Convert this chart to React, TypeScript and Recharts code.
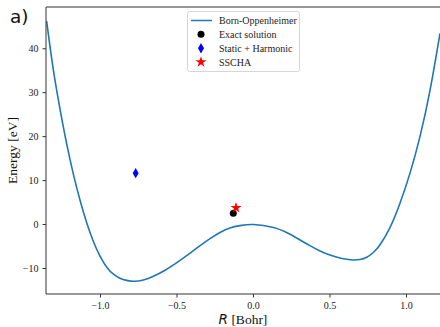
import { ComposedChart, Line, Scatter, XAxis, YAxis, ReferenceLine } from 'recharts'

// Born-Oppenheimer energy surface
const boR = [
  -1.352, -1.309, -1.265, -1.221, -1.178, -1.134, -1.09, -1.047, -1.003, -0.959, -0.915, -0.873,
  -0.829, -0.775, -0.72, -0.676, -0.62, -0.578, -0.53, -0.48, -0.43, -0.382, -0.333, -0.284, -0.219,
  -0.15, -0.088, 0, 0.131, 0.239, 0.369, 0.435, 0.5, 0.565, 0.61, 0.652, 0.696, 0.74, 0.785, 0.827,
  0.892, 0.958, 1.023, 1.088, 1.154, 1.219,
]
const boEnergy = [
  46.3, 35.4, 26.4, 18.4, 11.6, 5.6, 0.4, -3.8, -7.2, -9.7, -11.3, -12.2, -12.7, -12.9, -12.6, -12.1,
  -11.2, -10.4, -9.35, -8.15, -6.9, -5.65, -4.4, -3.2, -1.8, -0.75, -0.25, 0, -0.65, -2.2, -4.8,
  -6.0, -6.95, -7.6, -7.9, -8.05, -7.95, -7.45, -6.3, -4.6, -0.7, 4.9, 11.7, 20.0, 30.6, 43.5,
]

const exactR = [-0.132]
const exactEnergy = [2.6]
const harmonicR = [-0.77]
const harmonicEnergy = [11.7]
const sschaR = [-0.114]
const sschaEnergy = [3.8]

const xTicks = [-1.0, -0.5, 0.0, 0.5, 1.0]
const yTicks = [-10, 0, 10, 20, 30, 40]
const legendLabels = ['Born-Oppenheimer', 'Exact solution', 'Static + Harmonic', 'SSCHA']

const boData = boR.map((r, i) => ({ r, e: boEnergy[i] }))
const exactData = exactR.map((r, i) => ({ r, e: exactEnergy[i] }))
const harmonicData = harmonicR.map((r, i) => ({ r, e: harmonicEnergy[i] }))
const sschaData = sschaR.map((r, i) => ({ r, e: sschaEnergy[i] }))

const SERIF = '"Liberation Serif", "DejaVu Serif", serif'
const SANS = '"DejaVu Sans", sans-serif'
const BLUE = '#1f77b4'

const minus = (s: string) => s.replace('-', '\u2212')

function starPath(cx: number, cy: number, outer: number) {
  const inner = outer * 0.382
  let d = ''
  for (let k = 0; k < 10; k++) {
    const rad = k % 2 === 0 ? outer : inner
    const a = -Math.PI / 2 + (k * Math.PI) / 5
    d += `${k === 0 ? 'M' : 'L'}${cx + rad * Math.cos(a)},${cy + rad * Math.sin(a)}`
  }
  return d + 'Z'
}

const Dot = ({ cx, cy }: any) => <circle cx={cx} cy={cy} r={3.5} fill="#000" />
const Diamond = ({ cx, cy }: any) => (
  <path d={`M${cx},${cy - 5.2}L${cx + 3},${cy}L${cx},${cy + 5.2}L${cx - 3},${cy}Z`} fill="#0000ff" />
)
const Star = ({ cx, cy }: any) => <path d={starPath(cx, cy, 5.8)} fill="#ff0000" />

function LegendBox() {
  const rows = [9.5, 23.3, 37.2, 51]
  return (
    <svg width={114} height={62} style={{ position: 'absolute', left: 187, top: 11 }}>
      <rect x={0.5} y={0.5} width={112} height={60} rx={2} fill="rgba(255,255,255,0.8)" stroke="#d6d6d6" />
      <line x1={4} x2={25} y1={rows[0]} y2={rows[0]} stroke={BLUE} strokeWidth={1.5} />
      <Dot cx={14} cy={rows[1]} />
      <Diamond cx={14} cy={rows[2]} />
      <Star cx={14} cy={rows[3]} />
      {legendLabels.map((label, i) => (
        <text key={label} x={32} y={rows[i] + 3.5} fontFamily={SERIF} fontSize={10} fill="#222">
          {label}
        </text>
      ))}
    </svg>
  )
}

export default function App() {
  return (
    <div style={{ position: 'absolute', left: 0, top: 0, width: 440, height: 327, background: '#fff' }}>
      <ComposedChart width={440} height={327} margin={{ top: 7, right: 0, bottom: 0, left: 0 }}>
        <XAxis
          type="number"
          dataKey="r"
          domain={[-1.356, 1.219]}
          allowDataOverflow
          ticks={xTicks}
          tickFormatter={(v: number) => minus(v.toFixed(1))}
          height={33}
          tickSize={3.5}
          tickMargin={4}
          stroke="#333"
          tick={{ fontFamily: SERIF, fontSize: 10, fill: '#222' }}
          label={{
            content: ({ viewBox }: any) => (
              <text x={viewBox.x + 197} y={viewBox.y + 30} textAnchor="middle" fill="#111" fontSize={13.5}>
                <tspan fontFamily={SANS} fontStyle="italic">R</tspan>
                <tspan fontFamily={SERIF}> [Bohr]</tspan>
              </text>
            ),
          }}
        />
        <YAxis
          type="number"
          dataKey="e"
          domain={[-15.8, 49.5]}
          allowDataOverflow
          ticks={yTicks}
          tickFormatter={(v: number) => minus(String(v))}
          width={46}
          tickSize={3.5}
          tickMargin={4}
          stroke="#333"
          tick={{ fontFamily: SERIF, fontSize: 10, fill: '#222' }}
          label={{
            content: ({ viewBox }: any) => {
              const cy = viewBox.y + viewBox.height / 2
              return (
                <text
                  x={17}
                  y={cy}
                  transform={`rotate(-90, 17, ${cy})`}
                  textAnchor="middle"
                  fontFamily={SERIF}
                  fontSize={13.5}
                  fill="#111"
                >
                  Energy [eV]
                </text>
              )
            },
          }}
        />
        <ReferenceLine y={49.5} stroke="#333" strokeWidth={1} ifOverflow="visible" />
        <Line
          data={boData}
          dataKey="e"
          type="natural"
          stroke={BLUE}
          strokeWidth={1.6}
          dot={false}
          activeDot={false}
          isAnimationActive={false}
        />
        <Scatter data={harmonicData} dataKey="e" shape={Diamond} isAnimationActive={false} />
        <Scatter data={exactData} dataKey="e" shape={Dot} isAnimationActive={false} />
        <Scatter data={sschaData} dataKey="e" shape={Star} isAnimationActive={false} />
      </ComposedChart>
      <LegendBox />
      <div
        style={{
          position: 'absolute',
          left: 10,
          top: 6,
          fontFamily: SANS,
          fontSize: 18.5,
          lineHeight: '22px',
          color: '#111',
        }}
      >
        a)
      </div>
    </div>
  )
}
